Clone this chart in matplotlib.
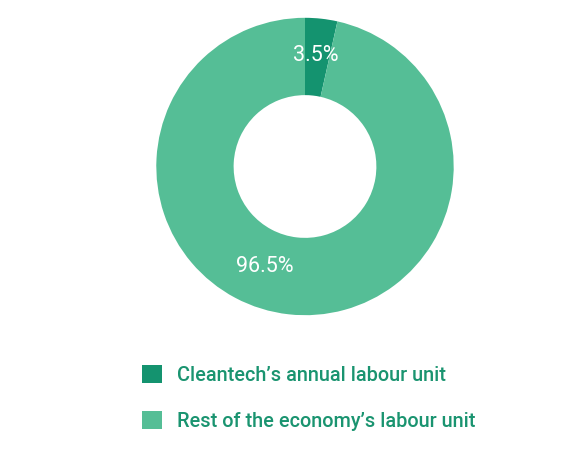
import matplotlib
matplotlib.use('Agg')
import matplotlib.pyplot as plt

# Share of labour units: cleantech vs rest of the economy
labels = ["Cleantech\u2019s annual labour unit", "Rest of the economy\u2019s labour unit"]
shares = [3.5, 96.5]
pct_text = ["3.5%", "96.5%"]
colors = ['#14936F', '#55BE96']
text_green = '#1A9470'

plt.rcParams['font.family'] = ['Roboto', 'DejaVu Sans']

W, H = 569, 468
fig = plt.figure(figsize=(W / 100, H / 100), dpi=100)

# donut axes: centre at (305, 166) px, outer radius ~149 px
cx, cy, half = 305, 166.5, 150
ax = fig.add_axes([(cx - half) / W, (H - cy - half) / H, 2 * half / W, 2 * half / H])

wedges, _ = ax.pie(shares, colors=colors, startangle=90, counterclock=False,
                   radius=1.0, wedgeprops=dict(width=0.52, linewidth=0))
lim = half / 148.7
ax.set_xlim(-lim, lim)
ax.set_ylim(-lim, lim)
ax.set_aspect('equal')
ax.axis('off')

# value labels inside the ring
ax.text(0.075, 0.745, pct_text[0], color='white', fontsize=15.5, ha='center', va='center')
ax.text(-0.27, -0.67, pct_text[1], color='white', fontsize=15.5, ha='center', va='center')

fig.legend(wedges, labels, loc='upper left', bbox_to_anchor=(142 / W, 1 - 365 / H),
           frameon=False, prop=dict(size=14.3, weight='medium'), labelcolor=text_green,
           handlelength=1.0, handleheight=1.0, handletextpad=0.75,
           labelspacing=1.33, borderpad=0, borderaxespad=0)

fig.savefig('out.png', dpi=100, facecolor='white')
